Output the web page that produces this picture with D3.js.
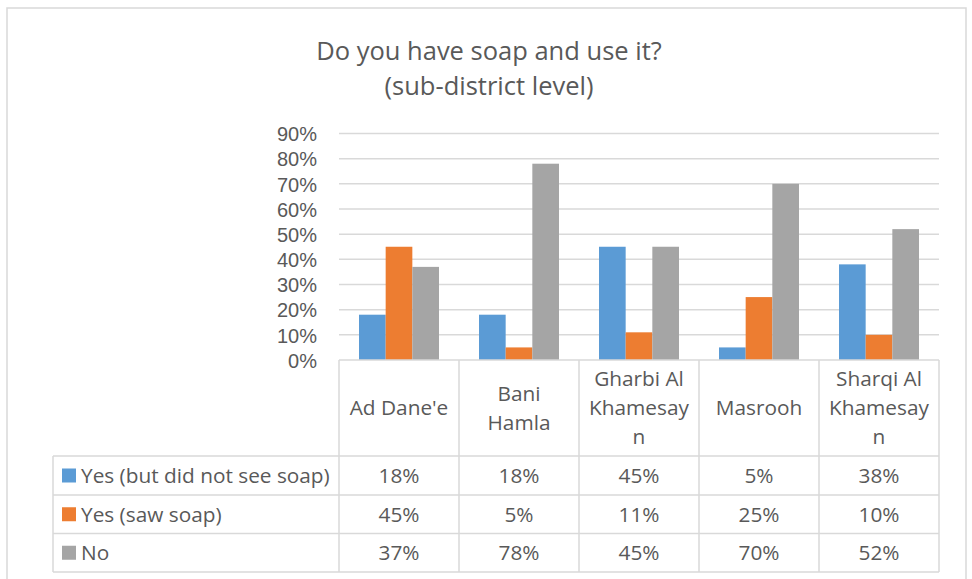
<!DOCTYPE html>
<html>
<head>
<meta charset="utf-8">
<script src="https://cdn.jsdelivr.net/npm/d3@7"></script>
<style>
  html, body { margin: 0; padding: 0; background: #fff; }
  svg { display: block; }
  text { font-family: "Open Sans", "Noto Sans", sans-serif; fill: #595959; }
  .y-axis text { font-family: "Liberation Sans", Arial, sans-serif; }
</style>
</head>
<body>
<svg id="chart" width="972" height="579"></svg>
<script>
// Sub-district survey results: share of respondents per answer
const categories = ["Ad Dane'e", "Bani Hamla", "Gharbi Al Khamesayn", "Masrooh", "Sharqi Al Khamesayn"];
const categoryLines = [["Ad Dane'e"], ["Bani", "Hamla"], ["Gharbi Al", "Khamesay", "n"], ["Masrooh"], ["Sharqi Al", "Khamesay", "n"]];
const seriesNames = ["Yes (but did not see soap)", "Yes (saw soap)", "No"];
const yesNotSeen = [18, 18, 45, 5, 38];
const yesSaw = [45, 5, 11, 25, 10];
const noSoap = [37, 78, 45, 70, 52];
const yTicks = [0, 10, 20, 30, 40, 50, 60, 70, 80, 90];
const colors = ["#5B9BD5", "#ED7D31", "#A5A5A5"];

const seriesValues = [yesNotSeen, yesSaw, noSoap];

const svg = d3.select("#chart");
const grid = "#D9D9D9";
const labelSize = "20.8px";

// outer chart frame
svg.append("rect").attr("x", 7).attr("y", 8).attr("width", 959).attr("height", 600)
  .attr("fill", "none").attr("stroke", grid).attr("stroke-width", 1.5);

// title
const title = svg.append("text").attr("text-anchor", "middle").style("font-size", "25.5px");
title.append("tspan").attr("x", 489).attr("y", 60).text("Do you have soap and use it?");
title.append("tspan").attr("x", 489).attr("y", 95).text("(sub-district level)");

// scales
const plotLeft = 339, plotRight = 939, plotTop = 133.5, plotBottom = 360;
const x = d3.scaleBand().domain(categories).range([plotLeft, plotRight]).padding(0);
const xs = d3.scaleBand().domain(seriesNames).range([20, x.bandwidth() - 20]).padding(0);
const y = d3.scaleLinear().domain([0, 90]).range([plotBottom, plotTop]);

// gridlines
svg.append("g").selectAll("line").data(yTicks.filter(t => t > 0)).join("line")
  .attr("x1", plotLeft).attr("x2", plotRight)
  .attr("y1", d => y(d)).attr("y2", d => y(d))
  .attr("stroke", grid).attr("stroke-width", 1.5);

// y axis labels
const yAxis = d3.axisLeft(y).tickValues(yTicks).tickFormat(d => d + "%").tickSize(0).tickPadding(0);
const yg = svg.append("g").attr("class", "y-axis").attr("transform", `translate(${plotLeft - 22},0)`).call(yAxis);
yg.attr("font-family", null).attr("font-size", null);
yg.select(".domain").remove();
yg.selectAll("text").style("font-size", "20px").attr("fill", "#595959").attr("dy", "0.36em");

// bars
const groups = svg.append("g").selectAll("g").data(categories).join("g")
  .attr("transform", d => `translate(${x(d)},0)`);
groups.selectAll("rect")
  .data((c, i) => seriesNames.map((s, k) => ({ s, k, v: seriesValues[k][i] })))
  .join("rect")
  .attr("x", d => xs(d.s))
  .attr("width", xs.bandwidth())
  .attr("y", d => y(d.v))
  .attr("height", d => y(0) - y(d.v))
  .attr("fill", d => colors[d.k]);

// data table
const rowY = [456, 495, 533.5, 572];
const tableLeft = 53;
const tg = svg.append("g");
// category axis line
tg.append("line").attr("x1", plotLeft).attr("x2", plotRight).attr("y1", plotBottom).attr("y2", plotBottom)
  .attr("stroke", grid).attr("stroke-width", 1.5);
// column dividers
const colEdges = categories.map(c => x(c)).concat([plotRight]);
tg.selectAll("line.col").data(colEdges).join("line").attr("class", "col")
  .attr("x1", d => d).attr("x2", d => d).attr("y1", plotBottom).attr("y2", rowY[3])
  .attr("stroke", grid).attr("stroke-width", 1.5);
// row lines
tg.selectAll("line.row").data(rowY).join("line").attr("class", "row")
  .attr("x1", tableLeft).attr("x2", plotRight).attr("y1", d => d).attr("y2", d => d)
  .attr("stroke", grid).attr("stroke-width", 1.5);
tg.append("line").attr("x1", tableLeft).attr("x2", tableLeft).attr("y1", rowY[0]).attr("y2", rowY[3])
  .attr("stroke", grid).attr("stroke-width", 1.5);

// category header labels
const headerMid = (plotBottom + rowY[0]) / 2;
const lineH = 29;
categories.forEach((c, i) => {
  const lines = categoryLines[i];
  const t = tg.append("text").attr("text-anchor", "middle").style("font-size", labelSize);
  lines.forEach((ln, j) => {
    t.append("tspan").attr("x", x(c) + x.bandwidth() / 2)
      .attr("y", headerMid + (j - (lines.length - 1) / 2) * lineH)
      .attr("dy", "0.36em").text(ln);
  });
});

// series rows: legend key, name, values
seriesNames.forEach((s, k) => {
  const mid = (rowY[k] + rowY[k + 1]) / 2;
  tg.append("rect").attr("x", 62).attr("y", mid - 7).attr("width", 14).attr("height", 14).attr("fill", colors[k]);
  tg.append("text").attr("x", 81).attr("y", mid).attr("dy", "0.36em").style("font-size", labelSize).text(s);
  categories.forEach((c, i) => {
    tg.append("text").attr("x", x(c) + x.bandwidth() / 2).attr("y", mid).attr("dy", "0.36em")
      .attr("text-anchor", "middle").style("font-size", labelSize).text(seriesValues[k][i] + "%");
  });
});
</script>
</body>
</html>
